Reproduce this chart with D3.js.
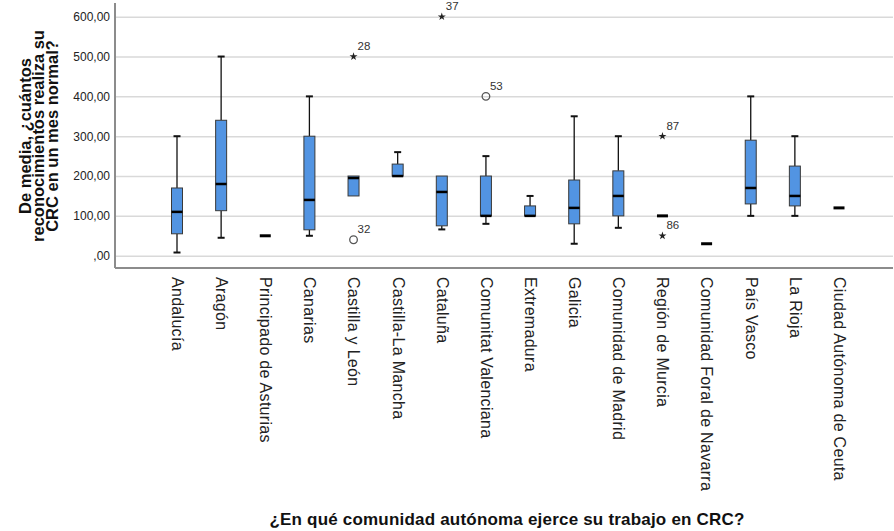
<!DOCTYPE html>
<html><head><meta charset="utf-8">
<script src="https://cdn.jsdelivr.net/npm/d3@7"></script>
<style>body{margin:0;background:#fff}svg{display:block}text{font-family:"Liberation Sans",Arial,sans-serif}</style>
</head><body><svg id="c" width="894" height="531"></svg>
<script>
const categories = ["Andalucía","Aragón","Principado de Asturias","Canarias","Castilla y León","Castilla-La Mancha","Cataluña","Comunitat Valenciana","Extremadura","Galicia","Comunidad de Madrid","Región de Murcia","Comunidad Foral de Navarra","País Vasco","La Rioja","Ciudad Autónoma de Ceuta"];
const mins    = [8,  45, 50, 50, 150, 200, 66, 80, 100, 30, 70, 100, 30, 100, 100, 120];
const q1s     = [55, 113,50, 65, 150, 200, 75, 100,100, 80, 100,100, 30, 130, 125, 120];
const medians = [110,180,50, 140,195, 200, 160,100,100, 120,150,100, 30, 170, 150, 120];
const q3s     = [170,340,50, 300,200, 230, 200,200,125, 190,213,100, 30, 290, 225, 120];
const maxs    = [300,500,50, 400,200, 260, 200,250,150, 350,300,100, 30, 400, 300, 120];
const outCats   = ["Castilla y León","Castilla y León","Cataluña","Comunitat Valenciana","Región de Murcia","Región de Murcia"];
const outValues = [500, 40, 600, 400, 300, 50];
const outLabels = ["28","32","37","53","87","86"];
const outTypes  = ["star","circle","star","circle","star","star"];
const yTicks = [0,100,200,300,400,500,600];

const svg = d3.select("#c");
const pLeft = 115, pRight = 893, pTop = 3, pBottom = 268;
const x = d3.scalePoint().domain(categories).range([177, 839]);
const y = d3.scaleLinear().domain([0, 600]).range([255.7, 16.7]);
const bw = 11;

// grid + y axis
const gy = svg.append("g").attr("transform", `translate(${pLeft},0)`)
  .call(d3.axisLeft(y).tickValues(yTicks).tickSizeInner(-(pRight-pLeft)).tickSizeOuter(0).tickPadding(5)
    .tickFormat(d => d === 0 ? ",00" : d + ",00"));
gy.select(".domain").remove();
gy.selectAll(".tick line").attr("stroke", "#d9d9d9").attr("stroke-width", 1.5);
gy.selectAll(".tick text").attr("font-size", 12).attr("fill", "#222").attr("font-family", "Liberation Sans, Arial, sans-serif");

// frame
svg.append("line").attr("x1", pLeft).attr("x2", pLeft).attr("y1", pTop).attr("y2", pBottom).attr("stroke", "#8c8c8c").attr("stroke-width", 2);
svg.append("line").attr("x1", pLeft).attr("x2", pRight).attr("y1", pBottom).attr("y2", pBottom).attr("stroke", "#8c8c8c").attr("stroke-width", 2);

// x labels
const gx = svg.append("g").attr("transform", `translate(0,${pBottom})`)
  .call(d3.axisBottom(x).tickSize(0).tickPadding(0));
gx.select(".domain").remove();
gx.selectAll(".tick text")
  .attr("font-size", 16).attr("letter-spacing", "0.3px").attr("fill", "#222").attr("font-family", "Liberation Sans, Arial, sans-serif")
  .attr("text-anchor", "start").attr("transform", "rotate(90)")
  .attr("x", 9).attr("y", 0).attr("dy", "0.35em");

// boxes
const g = svg.append("g");
categories.forEach((c, i) => {
  const cx = x(c);
  if (mins[i] === maxs[i]) {
    g.append("line").attr("x1", cx - bw/2).attr("x2", cx + bw/2).attr("y1", y(medians[i])).attr("y2", y(medians[i]))
      .attr("stroke", "#000").attr("stroke-width", 3);
    return;
  }
  if (maxs[i] > q3s[i]) {
    g.append("line").attr("x1", cx).attr("x2", cx).attr("y1", y(maxs[i])).attr("y2", y(q3s[i])).attr("stroke", "#111").attr("stroke-width", 1.3);
    g.append("line").attr("x1", cx - 3.5).attr("x2", cx + 3.5).attr("y1", y(maxs[i])).attr("y2", y(maxs[i])).attr("stroke", "#111").attr("stroke-width", 2);
  }
  if (mins[i] < q1s[i]) {
    g.append("line").attr("x1", cx).attr("x2", cx).attr("y1", y(q1s[i])).attr("y2", y(mins[i])).attr("stroke", "#111").attr("stroke-width", 1.3);
    g.append("line").attr("x1", cx - 3.5).attr("x2", cx + 3.5).attr("y1", y(mins[i])).attr("y2", y(mins[i])).attr("stroke", "#111").attr("stroke-width", 2);
  }
  g.append("rect").attr("x", cx - bw/2).attr("width", bw).attr("y", y(q3s[i])).attr("height", y(q1s[i]) - y(q3s[i]))
    .attr("fill", "#5294e2").attr("stroke", "#3a3a3a").attr("stroke-width", 1);
  g.append("line").attr("x1", cx - bw/2).attr("x2", cx + bw/2).attr("y1", y(medians[i])).attr("y2", y(medians[i]))
    .attr("stroke", "#000").attr("stroke-width", 2.5);
});

// outliers
const star = d3.symbol().type(d3.symbolStar).size(20);
outCats.forEach((c, i) => {
  const cx = x(c), cy = y(outValues[i]);
  if (outTypes[i] === "circle") {
    g.append("circle").attr("cx", cx).attr("cy", cy).attr("r", 3.8).attr("fill", "none").attr("stroke", "#555").attr("stroke-width", 1.3);
  } else {
    g.append("path").attr("d", star()).attr("transform", `translate(${cx},${cy})`).attr("fill", "#222");
  }
  g.append("text").attr("x", cx + 4).attr("y", cy - 6.5).attr("font-size", 11.5).attr("fill", "#333").text(outLabels[i]);
});

// axis titles
const yt = svg.append("text").attr("transform", `translate(0,136) rotate(-90)`)
  .attr("text-anchor", "middle").attr("font-weight", "bold").attr("font-size", 16.5).attr("fill", "#111");
["De media, ¿cuántos", "reconocimientos realiza su", "CRC en un mes normal?"].forEach((t, i) => {
  yt.append("tspan").attr("x", 0).attr("y", 30.5 + i * 13.5).text(t);
});
svg.append("text").attr("x", 507).attr("y", 525).attr("text-anchor", "middle").attr("font-weight", "bold")
  .attr("font-size", 17).attr("letter-spacing", "0.2px").attr("fill", "#111").text("¿En qué comunidad autónoma ejerce su trabajo en CRC?");
</script></body></html>
